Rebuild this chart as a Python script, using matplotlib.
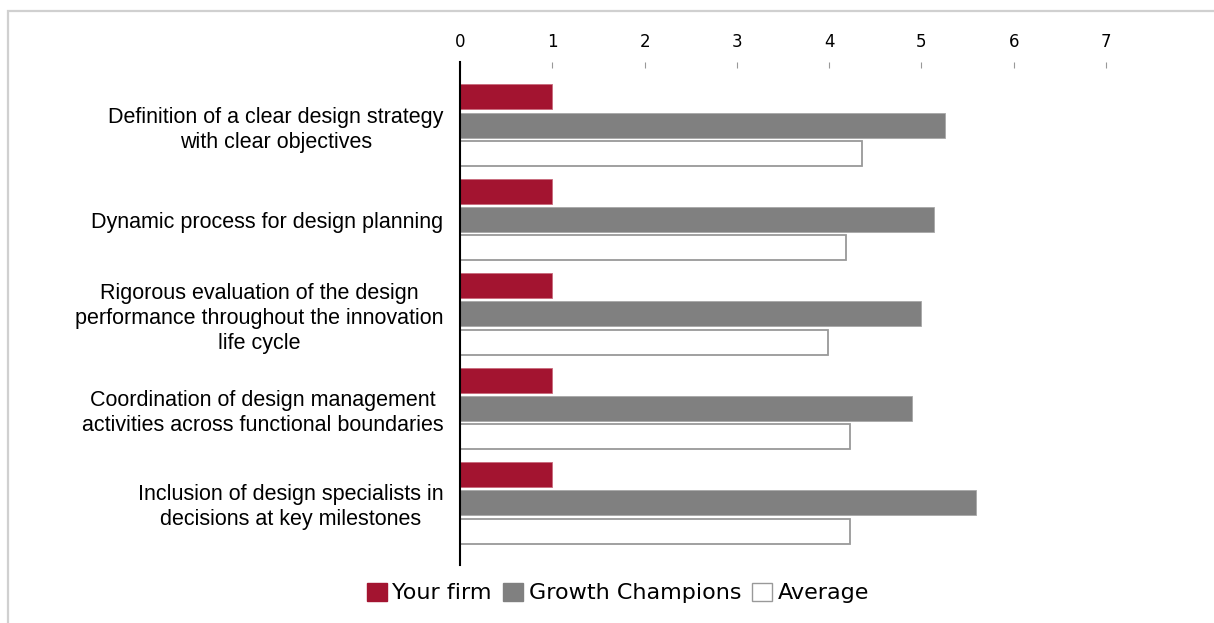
import numpy as np
import matplotlib.pyplot as plt
import matplotlib.patches as mpatches

categories = ['Definition of a clear design strategy\nwith clear objectives',
              'Dynamic process for design planning',
              'Rigorous evaluation of the design\nperformance throughout the innovation\nlife cycle',
              'Coordination of design management\nactivities across functional boundaries',
              'Inclusion of design specialists in\ndecisions at key milestones']
your_firm = [1.0, 1.0, 1.0, 1.0, 1.0]
growth_champions = [5.25, 5.14, 5.0, 4.9, 5.59]
average = [4.36, 4.18, 3.99, 4.23, 4.23]
x_ticks = [0, 1, 2, 3, 4, 5, 6, 7]

W, H = 1214, 623
fig = plt.figure(figsize=(W / 100, H / 100), dpi=100)
ax = fig.add_axes([460 / W, (H - 565) / H, (1106 - 460) / W, (565 - 62) / H])

y = np.arange(len(categories))
h = 0.265
step = 0.3
ax.barh(y - step, your_firm, height=h, color='#a31430', edgecolor='#c86a7c', linewidth=0.6)
ax.barh(y, growth_champions, height=h, color='#808080', edgecolor='#a8a8a8', linewidth=0.6)
ax.barh(y + step, average, height=h, color='white', edgecolor='#999999', linewidth=1.3)

ax.set_xlim(0, 7)
ax.set_ylim(4.66, -0.67)
ax.set_xticks(x_ticks)
ax.xaxis.tick_top()
ax.tick_params(axis='x', direction='in', length=4, width=0.8, color='#999999',
               pad=8, labelsize=12)
for lab in ax.get_xticklabels():
    lab.set_family('DejaVu Sans')
ax.set_yticks(y)
ax.set_yticklabels(categories, fontsize=15.5, family='Liberation Sans',
                   multialignment='center', linespacing=1.25)
ax.tick_params(axis='y', length=0, pad=12)

for s in ['top', 'right', 'bottom']:
    ax.spines[s].set_visible(False)
ax.spines['left'].set_linewidth(1.5)
ax.spines['left'].set_color('black')

# outer frame
fig.patches.append(mpatches.Rectangle((8 / W, -0.1), 1.2, (H - 11) / H + 0.1,
                                      transform=fig.transFigure, fill=False,
                                      edgecolor='#d0d0d0', linewidth=1.6))

handles = [mpatches.Patch(facecolor='#a31430', edgecolor='#a31430', label='Your firm'),
           mpatches.Patch(facecolor='#808080', edgecolor='#808080', label='Growth Champions'),
           mpatches.Patch(facecolor='white', edgecolor='#999999', label='Average')]
fig.legend(handles=handles, loc='center', bbox_to_anchor=(618 / W, (H - 593) / H),
           ncol=3, frameon=False, handlelength=0.9, handleheight=0.9,
           handletextpad=0.25, columnspacing=0.5, prop={'family': 'DejaVu Sans', 'size': 16})

fig.savefig('out.png', dpi=100)
